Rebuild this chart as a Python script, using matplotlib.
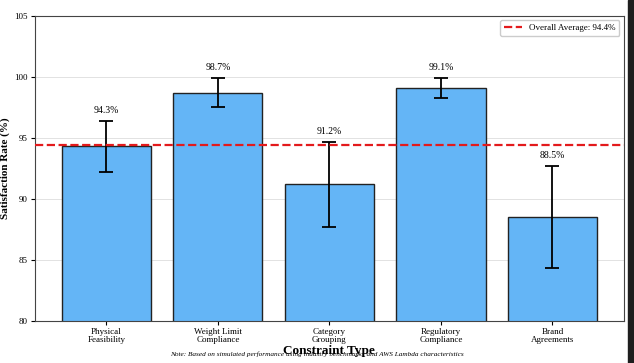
import matplotlib
matplotlib.use("Agg")
import matplotlib.pyplot as plt
from matplotlib.patches import Rectangle
import numpy as np

categories = ["Physical\nFeasibility", "Weight Limit\nCompliance", "Category\nGrouping",
              "Regulatory\nCompliance", "Brand\nAgreements"]
rates = [94.3, 98.7, 91.2, 99.1, 88.5]
errors = [2.1, 1.2, 3.5, 0.8, 4.2]
overall_avg = 94.4
y_ticks = [80, 85, 90, 95, 100, 105]

plt.rcParams["font.family"] = ["Liberation Serif", "DejaVu Serif"]

fig = plt.figure(figsize=(6.34, 3.63), dpi=100)
ax = fig.add_axes([0.055, 0.116, 0.929, 0.84])

x = np.arange(len(categories))
ax.bar(x, rates, width=0.8, color="#64B5F6", edgecolor="#222222", linewidth=1.0,
       yerr=errors, capsize=5, error_kw={"ecolor": "black", "elinewidth": 1.3, "capthick": 1.3},
       zorder=2)

for xi, v, e in zip(x, rates, errors):
    ax.text(xi, v + e + 0.5, f"{v:.1f}%", ha="center", va="bottom", fontsize=7)

ax.axhline(overall_avg, color="#e31a1c", linestyle="--", linewidth=1.6,
           label=f"Overall Average: {overall_avg:.1f}%", zorder=3)

ax.set_ylim(80, 105)
ax.set_yticks(y_ticks)
ax.set_xticks(x)
ax.set_xticklabels(categories, fontsize=6.5, linespacing=1.0)
ax.tick_params(axis="x", pad=2, length=3)
ax.tick_params(axis="y", labelsize=6.5, pad=2, length=3)
ax.grid(axis="y", color="#dddddd", linewidth=0.6, zorder=0)
ax.set_axisbelow(True)
for s in ax.spines.values():
    s.set_color("#444444")

ax.set_ylabel("Satisfaction Rate (%)", fontsize=8, fontweight="bold", labelpad=3)
ax.set_xlabel("Constraint Type", fontsize=9.5, fontweight="bold", labelpad=1)
ax.legend(loc="upper right", fontsize=6.5, framealpha=1.0, edgecolor="#cccccc")

fig.text(0.5, 0.018, "Note: Based on simulated performance using industry benchmarks and AWS Lambda characteristics",
         ha="center", fontsize=5.2, style="italic")

# dark strip at right edge of the screenshot
fig.patches.append(Rectangle((0.99, 0), 0.01, 1, transform=fig.transFigure,
                             color="#1e1e1e", zorder=10))

fig.savefig("out.png", dpi=100)
